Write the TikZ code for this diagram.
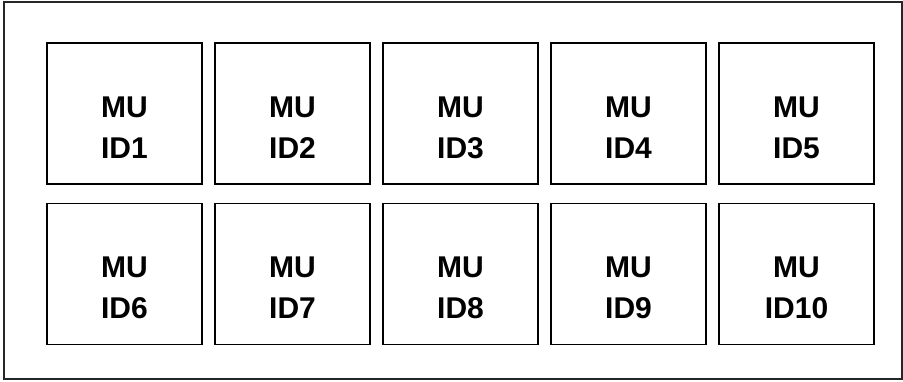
\documentclass[tikz,border=0pt]{standalone}
\usepackage{fontspec}
\setmainfont{Liberation Sans}
\usetikzlibrary{positioning}

\begin{document}
\begin{tikzpicture}[x=1pt, y=1pt, node distance=18pt and 11.4pt,
  mubox/.style={draw, line width=1.6pt, minimum width=155pt, minimum height=141pt, inner sep=0pt},
  mutext/.style={align=center, yshift=-14pt, font=\bfseries\fontsize{30}{41}\selectfont}]
\useasboundingbox (0,0) rectangle (903,381);
\node[draw, line width=1.5pt, black!85, minimum width=898pt, minimum height=377pt, inner sep=0pt] (frame) at (453,190.5) {};
\node[mubox, label={[mutext]center:MU\\ID1}] (id1) at (124.5,267.5) {};
\node[mubox, right=of id1, label={[mutext]center:MU\\ID2}] (id2) {};
\node[mubox, right=of id2, label={[mutext]center:MU\\ID3}] (id3) {};
\node[mubox, right=of id3, label={[mutext]center:MU\\ID4}] (id4) {};
\node[mubox, right=of id4, label={[mutext]center:MU\\ID5}] (id5) {};
\node[mubox, below=of id1, label={[mutext]center:MU\\ID6}] (id6) {};
\node[mubox, right=of id6, label={[mutext]center:MU\\ID7}] (id7) {};
\node[mubox, right=of id7, label={[mutext]center:MU\\ID8}] (id8) {};
\node[mubox, right=of id8, label={[mutext]center:MU\\ID9}] (id9) {};
\node[mubox, right=of id9, label={[mutext]center:MU\\ID10}] (id10) {};
\end{tikzpicture}
\end{document}
